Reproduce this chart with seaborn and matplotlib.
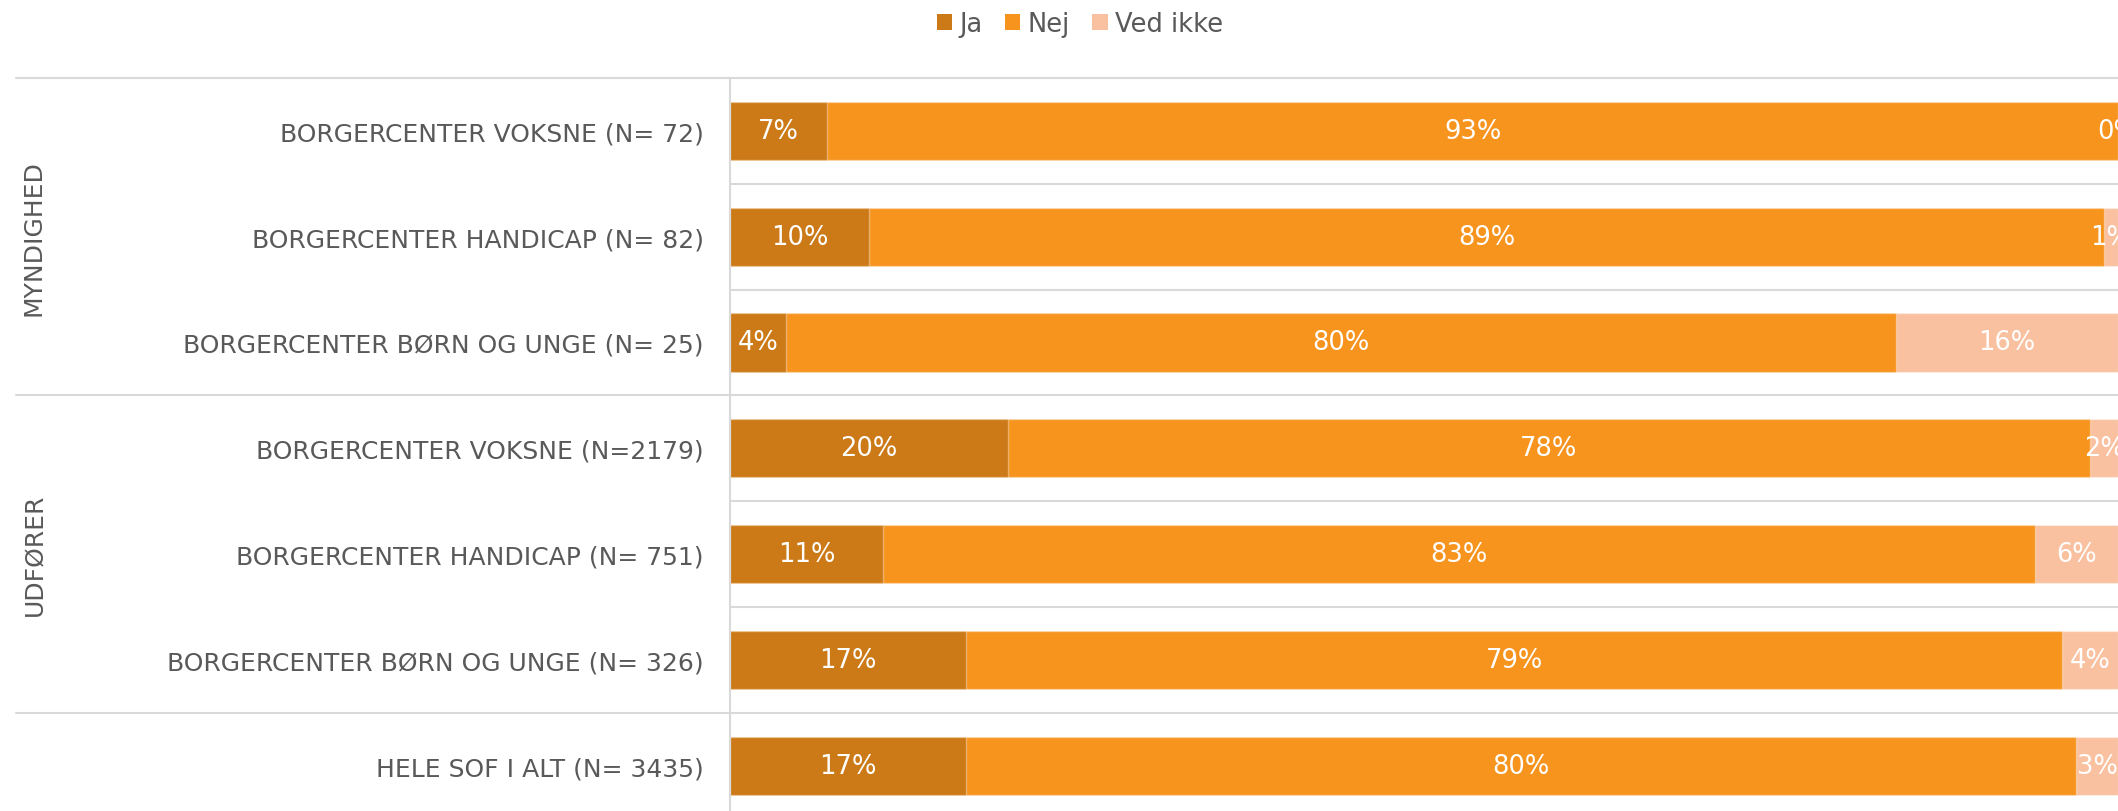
import matplotlib
matplotlib.use("Agg")
import matplotlib.pyplot as plt
import matplotlib.transforms as mtransforms
from matplotlib.patches import Patch
from matplotlib.lines import Line2D
import seaborn as sns
import pandas as pd
import numpy as np

# ---- data ----
categories = [
    "BORGERCENTER VOKSNE (N= 72)",
    "BORGERCENTER HANDICAP (N= 82)",
    "BORGERCENTER BØRN OG UNGE (N= 25)",
    "BORGERCENTER VOKSNE (N=2179)",
    "BORGERCENTER HANDICAP (N= 751)",
    "BORGERCENTER BØRN OG UNGE (N= 326)",
    "HELE SOF I ALT (N= 3435)",
]
group_names = ["MYNDIGHED", "UDFØRER"]
group_rows = [[0, 1, 2], [3, 4, 5]]
series_names = ["Ja", "Nej", "Ved ikke"]
ja = [7, 10, 4, 20, 11, 17, 17]
nej = [93, 89, 80, 78, 83, 79, 80]
ved_ikke = [0, 1, 16, 2, 6, 4, 3]

colors = ["#cc7a17", "#f7941e", "#f9c19f"]
text_gray = "#595959"
line_gray = "#d9d9d9"

W, H = 2118, 812
sns.set_theme(style="white")
plt.rcParams["font.family"] = ["DejaVu Sans"]

fig = plt.figure(figsize=(W / 100, H / 100), dpi=100)
ax_left = 730 / W
ax_top_px = 79
ax = fig.add_axes([ax_left, 0, 1 - ax_left, (H - ax_top_px) / H])

df = pd.DataFrame({"cat": categories, "Ja": ja, "Nej": nej, "Ved ikke": ved_ikke})
df["c1"] = df["Ja"]
df["c2"] = df["Ja"] + df["Nej"]
df["c3"] = df["Ja"] + df["Nej"] + df["Ved ikke"]

bar_kw = dict(y="cat", order=categories, orient="h", width=0.55, ax=ax,
              saturation=1, edgecolor=(1, 1, 1, 0.35), linewidth=1.0)
sns.barplot(data=df, x="c3", color=colors[2], **bar_kw)
sns.barplot(data=df, x="c2", color=colors[1], **bar_kw)
sns.barplot(data=df, x="c1", color=colors[0], **bar_kw)

row_pitch = 105.8
ylim_bottom = -0.5 + (H - ax_top_px) / row_pitch
ax.set_xlim(0, 100)
ax.set_ylim(ylim_bottom, -0.5)

# segment labels
for i in range(len(categories)):
    left = 0
    for vals in (ja, nej, ved_ikke):
        v = vals[i]
        ax.text(left + v / 2, i, f"{v}%", ha="center", va="center",
                color="white", fontsize=18.5)
        left += v

# axes styling
ax.set_xlabel("")
ax.set_ylabel("")
ax.set_xticks([])
ax.tick_params(axis="y", length=0, pad=19)
ax.set_yticks(range(len(categories)))
ax.set_yticklabels(categories, color=text_gray, fontsize=18)
for s in ["top", "right", "bottom"]:
    ax.spines[s].set_visible(False)
ax.spines["left"].set_color(line_gray)
ax.spines["left"].set_linewidth(1.5)

# separator lines
for y in [0.5, 1.5, 3.5, 4.5]:
    ax.axhline(y, color=line_gray, lw=1.5, zorder=0)
trans = mtransforms.blended_transform_factory(fig.transFigure, ax.transData)
for y in [-0.5, 2.5, 5.5]:
    fig.add_artist(Line2D([16 / W, 1], [y, y], transform=trans,
                          color=line_gray, lw=1.5))

# group labels
for name, rows in zip(group_names, group_rows):
    yc = float(np.mean(rows))
    fig.text(34 / W, yc, name, transform=trans, rotation=90, ha="center",
             va="center", color=text_gray, fontsize=18)

# legend
handles = [Patch(facecolor=c, edgecolor="none") for c in colors]
fig.legend(handles, series_names, loc="center",
           bbox_to_anchor=(1080 / W, 1 - 25 / H), ncol=3, frameon=False,
           handlelength=0.6, handleheight=0.6, handletextpad=0.3,
           columnspacing=0.85, fontsize=18.5, labelcolor=text_gray)

fig.savefig("out.png", dpi=100)
